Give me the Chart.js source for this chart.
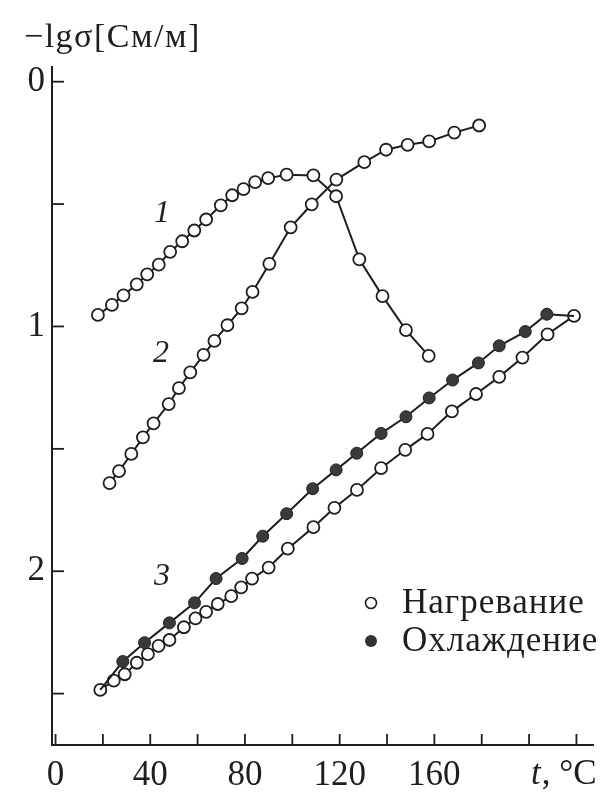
<!DOCTYPE html>
<html>
<head>
<meta charset="utf-8">
<script src="https://cdn.jsdelivr.net/npm/chart.js@4.4.0/dist/chart.umd.min.js"></script>
<style>
html, body { margin: 0; background: #fff; }
#wrap { width: 614px; height: 802px; }
</style>
</head>
<body>
<div id="wrap"><canvas id="chart"></canvas></div>
<script>
// curve 1
const curve1T = [17.9, 23.8, 28.7, 34.3, 38.7, 43.6, 48.4, 53.5, 58.6, 63.6, 69.8, 74.6, 79.4, 84.3, 89.8, 97.6, 108.9, 118.5, 128.3, 138.1, 148.0, 157.6];
const curve1V = [0.953, 0.912, 0.873, 0.828, 0.787, 0.747, 0.695, 0.652, 0.608, 0.563, 0.505, 0.464, 0.439, 0.410, 0.394, 0.380, 0.383, 0.468, 0.726, 0.876, 1.015, 1.120];

// curve 2
const curve2T = [22.8, 26.8, 32.0, 36.9, 41.4, 47.8, 52.1, 56.9, 62.5, 67.1, 72.6, 78.6, 83.2, 90.3, 99.3, 108.2, 118.6, 130.4, 139.6, 148.7, 157.8, 168.4, 178.9];
const curve2V = [1.640, 1.591, 1.521, 1.453, 1.396, 1.317, 1.252, 1.188, 1.116, 1.059, 0.995, 0.926, 0.859, 0.744, 0.595, 0.501, 0.400, 0.329, 0.278, 0.258, 0.244, 0.208, 0.179];

// curve 3, heating
const heatT = [18.9, 24.6, 29.2, 34.3, 39.0, 43.5, 48.1, 54.2, 59.1, 63.6, 68.5, 74.2, 78.4, 83.0, 90.0, 98.1, 108.9, 117.8, 127.3, 137.5, 147.7, 157.1, 167.4, 177.6, 187.4, 197.2, 207.8, 219.0];
const heatV = [2.485, 2.447, 2.421, 2.374, 2.339, 2.305, 2.281, 2.229, 2.193, 2.166, 2.134, 2.102, 2.066, 2.030, 1.985, 1.908, 1.820, 1.741, 1.668, 1.579, 1.504, 1.439, 1.347, 1.276, 1.206, 1.127, 1.032, 0.957];

// curve 3, cooling (first and last points are the heating ends, no marker)
const coolT = [18.9, 28.4, 37.6, 48.1, 58.7, 67.8, 78.8, 87.5, 97.6, 108.6, 118.5, 127.2, 137.5, 148.0, 157.8, 167.7, 178.6, 187.4, 198.4, 207.5, 219.0];
const coolV = [2.485, 2.369, 2.292, 2.211, 2.129, 2.030, 1.948, 1.857, 1.765, 1.663, 1.586, 1.518, 1.437, 1.369, 1.292, 1.219, 1.149, 1.079, 1.021, 0.950, 0.957];

const xTicks = [0, 20, 40, 60, 80, 100, 120, 140, 160, 180, 200, 220];
const xLabels = [0, 40, 80, 120, 160];
const yTicks = [0, 0.5, 1, 1.5, 2, 2.5];
const yLabels = [0, 1, 2];

const ink = '#1e1e1e';
const serif = '"Liberation Serif", "DejaVu Serif", serif';

function pts(xs, ys) {
  return xs.map((x, i) => ({ x: x, y: ys[i] }));
}

const coolRadius = coolT.map((t, i) => (i === 0 || i === coolT.length - 1) ? 0 : 6);

const extras = {
  id: 'extras',
  afterDraw(chart) {
    const ctx = chart.ctx;
    const xs = chart.scales.x, ys = chart.scales.y;
    ctx.save();
    ctx.strokeStyle = ink;
    ctx.lineWidth = 1.8;
    // inward ticks
    xTicks.forEach(v => {
      const px = xs.getPixelForValue(v);
      ctx.beginPath();
      ctx.moveTo(px, xs.top);
      ctx.lineTo(px, xs.top - 11);
      ctx.stroke();
    });
    yTicks.forEach(v => {
      const py = ys.getPixelForValue(v);
      ctx.beginPath();
      ctx.moveTo(ys.right, py);
      ctx.lineTo(ys.right + 12, py);
      ctx.stroke();
    });

    ctx.fillStyle = ink;
    ctx.textBaseline = 'alphabetic';
    // axis title
    ctx.textAlign = 'left';
    ctx.letterSpacing = '1.5px';
    ctx.font = '34px ' + serif;
    ctx.fillText('\u2212lg\u03c3[См/м]', 24, 47);
    ctx.letterSpacing = '0px';

    // x axis unit
    ctx.font = 'italic 35px ' + serif;
    ctx.fillText('t', 531, 784);
    const tw = ctx.measureText('t').width;
    ctx.font = '35px ' + serif;
    ctx.fillText(', \u00b0C', 531 + tw + 1, 784);

    // curve numbers
    ctx.font = 'italic 32px ' + serif;
    ctx.textAlign = 'center';
    ctx.fillText('1', 162, 222);
    ctx.fillText('2', 161, 362);
    ctx.fillText('3', 162, 585);

    // legend
    ctx.textAlign = 'left';
    ctx.letterSpacing = '1px';
    ctx.font = '35px ' + serif;
    ctx.fillText('Нагревание', 402, 613);
    ctx.fillText('Охлаждение', 402, 651);
    ctx.letterSpacing = '0px';
    ctx.lineWidth = 1.6;
    ctx.fillStyle = '#fff';
    ctx.beginPath();
    ctx.arc(371, 603, 5.5, 0, Math.PI * 2);
    ctx.fill();
    ctx.stroke();
    ctx.fillStyle = '#333';
    ctx.beginPath();
    ctx.arc(371, 641, 6, 0, Math.PI * 2);
    ctx.fill();
    ctx.restore();
  }
};

new Chart(document.getElementById('chart'), {
  type: 'line',
  data: {
    datasets: [
      {
        label: '1',
        data: pts(curve1T, curve1V),
        borderColor: ink,
        borderWidth: 2,
        pointRadius: 6,
        pointBorderWidth: 1.8,
        pointBorderColor: ink,
        pointBackgroundColor: '#fff'
      },
      {
        label: '2',
        data: pts(curve2T, curve2V),
        borderColor: ink,
        borderWidth: 2,
        pointRadius: 6,
        pointBorderWidth: 1.8,
        pointBorderColor: ink,
        pointBackgroundColor: '#fff'
      },
      {
        label: 'Охлаждение',
        data: pts(coolT, coolV),
        borderColor: ink,
        borderWidth: 2,
        pointRadius: coolRadius,
        pointBorderWidth: 1,
        pointBorderColor: '#222',
        pointBackgroundColor: '#3a3a3a'
      },
      {
        label: 'Нагревание',
        data: pts(heatT, heatV),
        borderColor: ink,
        borderWidth: 2,
        pointRadius: 6,
        pointBorderWidth: 1.8,
        pointBorderColor: ink,
        pointBackgroundColor: '#fff'
      }
    ]
  },
  options: {
    responsive: true,
    maintainAspectRatio: false,
    animation: false,
    layout: { padding: { top: 67, right: 21, left: 0, bottom: 0 } },
    plugins: { legend: { display: false }, tooltip: { enabled: false } },
    elements: { line: { tension: 0 } },
    scales: {
      x: {
        type: 'linear',
        min: -1.5,
        max: 227,
        afterFit(scale) { scale.height = 57; },
        afterBuildTicks(scale) { scale.ticks = xTicks.map(v => ({ value: v })); },
        grid: { display: false, drawTicks: false },
        border: { display: true, color: ink, width: 2 },
        ticks: {
          autoSkip: false,
          maxRotation: 0,
          padding: 10,
          color: ink,
          font: { family: serif, size: 35 },
          callback: v => xLabels.includes(v) ? String(v) : ''
        }
      },
      y: {
        type: 'linear',
        reverse: true,
        min: -0.06,
        max: 2.71,
        afterFit(scale) { scale.width = 52; },
        afterBuildTicks(scale) { scale.ticks = yTicks.map(v => ({ value: v })); },
        grid: { display: false, drawTicks: false },
        border: { display: true, color: ink, width: 2 },
        ticks: {
          autoSkip: false,
          padding: 7,
          color: ink,
          font: { family: serif, size: 35 },
          callback: v => yLabels.includes(v) ? String(v) : ''
        }
      }
    }
  },
  plugins: [extras]
});
</script>
</body>
</html>
